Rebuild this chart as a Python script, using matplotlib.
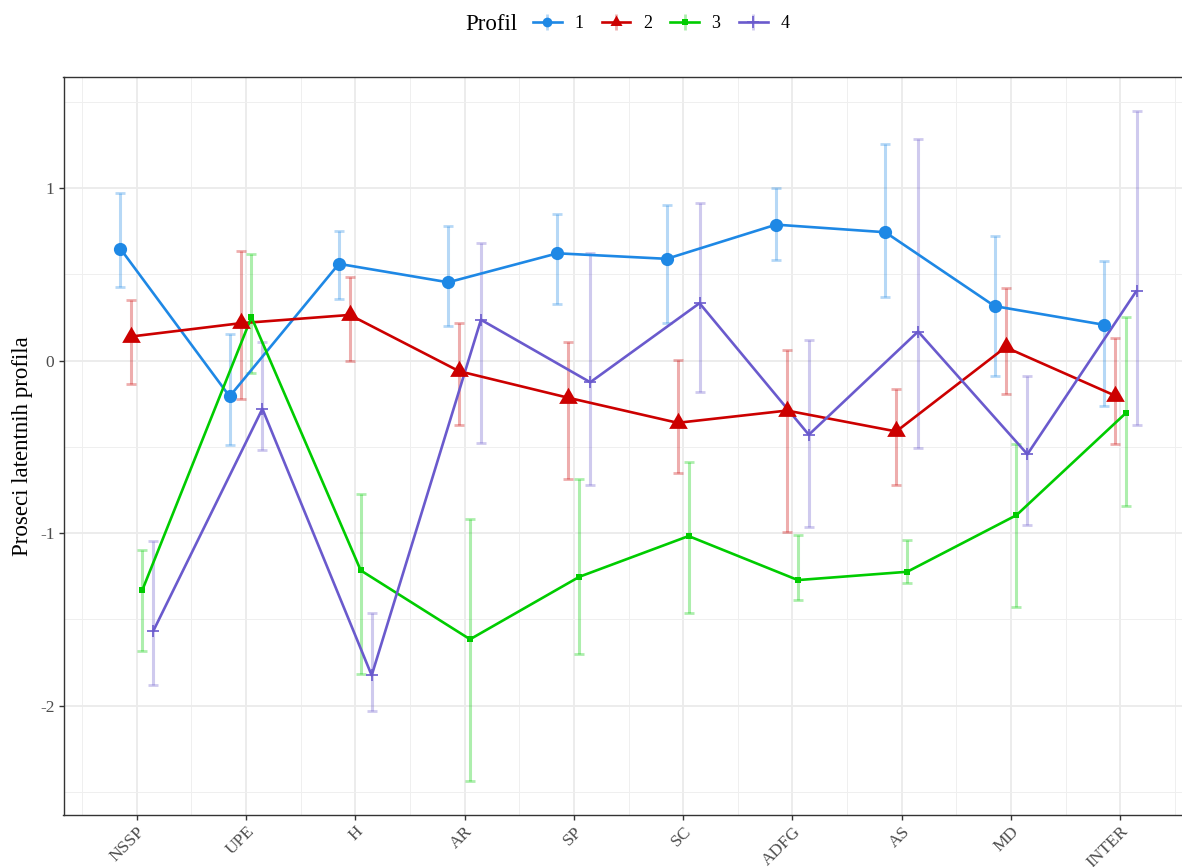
import matplotlib
matplotlib.use("Agg")
import matplotlib.pyplot as plt
import numpy as np
from matplotlib.lines import Line2D
from matplotlib.legend_handler import HandlerTuple

plt.rcParams['font.family'] = ['Liberation Serif', 'DejaVu Serif']

categories = ['NSSP', 'UPE', 'H', 'AR', 'SP', 'SC', 'ADFG', 'AS', 'MD', 'INTER']
profiles = ['1', '2', '3', '4']

p1_mean = [0.648, -0.208, 0.560, 0.453, 0.621, 0.589, 0.787, 0.743, 0.315, 0.207]
p1_low = [0.428, -0.488, 0.355, 0.197, 0.328, 0.218, 0.585, 0.367, -0.087, -0.261]
p1_high = [0.973, 0.152, 0.753, 0.782, 0.849, 0.901, 1.000, 1.255, 0.724, 0.579]

p2_mean = [0.139, 0.216, 0.264, -0.062, -0.216, -0.361, -0.290, -0.411, 0.077, -0.203]
p2_low = [-0.139, -0.224, 0.000, -0.371, -0.685, -0.652, -0.996, -0.720, -0.193, -0.483]
p2_high = [0.351, 0.637, 0.482, 0.216, 0.106, 0.004, 0.062, -0.164, 0.420, 0.131]

p3_mean = [-1.332, 0.251, -1.216, -1.615, -1.253, -1.017, -1.272, -1.224, -0.896, -0.305]
p3_low = [-1.685, -0.073, -1.815, -2.438, -1.700, -1.464, -1.390, -1.291, -1.426, -0.842]
p3_high = [-1.100, 0.617, -0.772, -0.921, -0.688, -0.588, -1.008, -1.040, -0.486, 0.254]

p4_mean = [-1.569, -0.280, -1.824, 0.236, -0.126, 0.332, -0.430, 0.168, -0.543, 0.405]
p4_low = [-1.882, -0.521, -2.031, -0.479, -0.724, -0.183, -0.967, -0.508, -0.954, -0.372]
p4_high = [-1.046, 0.106, -1.461, 0.679, 0.621, 0.911, 0.116, 1.284, -0.092, 1.448]

means = [p1_mean, p2_mean, p3_mean, p4_mean]
lows = [p1_low, p2_low, p3_low, p4_low]
highs = [p1_high, p2_high, p3_high, p4_high]

colors = ['#1E88E5', '#CC0000', '#00CC00', '#6A5ACD']
tri = [(0, 1), (-0.866, -0.5), (0.866, -0.5), (0, 1)]
markers = ['o', tri, 's', '+']
msizes = [9.5, 15.5, 4.5, 9]
offsets = [-0.15, -0.05, 0.05, 0.15]

W, H = 1182, 867
fig = plt.figure(figsize=(W / 100, H / 100), dpi=100)
left, right, top, bottom = 63.5, 1193.5, 77.4, 814.5
ax = fig.add_axes([left / W, (H - bottom) / H, (right - left) / W, (bottom - top) / H])

x = np.arange(1, len(categories) + 1)
for i in range(4):
    xs = x + offsets[i]
    m = np.array(means[i]); lo = np.array(lows[i]); hi = np.array(highs[i])
    ax.errorbar(xs, m, yerr=[m - lo, hi - m], fmt='none', ecolor=colors[i],
                alpha=0.32, elinewidth=2.2, capsize=3.6, capthick=2.0, zorder=2)
for i in range(4):
    xs = x + offsets[i]
    ax.plot(xs, means[i], color=colors[i], lw=1.9, zorder=3, solid_capstyle='butt')
for i in range(4):
    xs = x + offsets[i]
    ax.plot(xs, means[i], linestyle='none', marker=markers[i], ms=msizes[i],
            color=colors[i], mew=1.2 if i == 3 else 0, zorder=4)

ax.set_xlim(0.33, 10.67)
ax.set_ylim(-2.63, 1.64)
ax.set_xticks(x)
ax.set_xticklabels(categories, rotation=45, ha='right', va='top',
                   rotation_mode='anchor', fontsize=12.5, color='#4D4D4D')
ax.set_yticks([-2, -1, 0, 1])
ax.set_yticklabels(['-2', '-1', '0', '1'], fontsize=12.5, color='#4D4D4D')
ax.set_xticks(np.arange(0.5, 11, 1), minor=True)
ax.set_yticks([-2.5, -1.5, -0.5, 0.5, 1.5], minor=True)
ax.tick_params(axis='both', which='major', length=3.5, width=1, color='#333333', pad=3)
ax.tick_params(axis='both', which='minor', length=0)
ax.grid(which='major', color='#EBEBEB', lw=1.3, zorder=0)
ax.grid(which='minor', color='#EFEFEF', lw=0.7, zorder=0)
ax.set_axisbelow(True)
for s in ax.spines.values():
    s.set_color('#333333')
    s.set_linewidth(1.0)
ax.set_ylabel('Proseci latentnih profila', fontsize=16.5, labelpad=5)

handles = []
for i in range(4):
    eb = Line2D([], [], color=colors[i], alpha=0.32, marker='|', ms=11, mew=2,
                linestyle='none')
    ln = Line2D([], [], color=colors[i], lw=1.9, marker=markers[i],
                ms=[7, 10, 5, 8][i], mew=1.2 if i == 3 else 0)
    handles.append((eb, ln))
fig.text(491 / W, 1 - 24 / H, 'Profil', fontsize=16.5, ha='center', va='center')
fig.legend(handles, profiles, loc='center', bbox_to_anchor=(661 / W, 1 - 24 / H),
           ncol=4, frameon=False, fontsize=13, handlelength=1.6, handletextpad=0.7,
           columnspacing=1.0, handler_map={tuple: HandlerTuple(ndivide=1, pad=0)})

fig.savefig('out.png', dpi=100)
